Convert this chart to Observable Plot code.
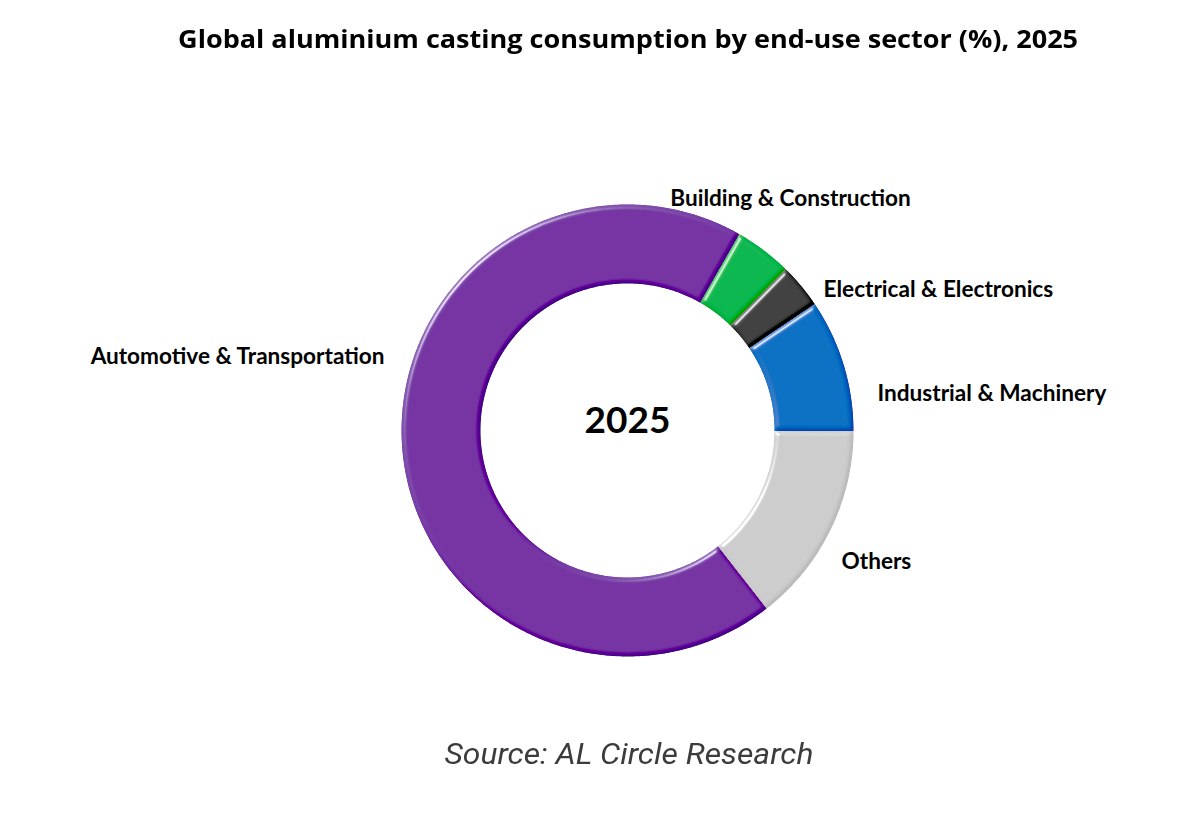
<!DOCTYPE html>
<html>
<head>
<meta charset="utf-8">
<script src="https://cdn.jsdelivr.net/npm/d3@7"></script>
<script src="https://cdn.jsdelivr.net/npm/@observablehq/plot@0.6"></script>
<style>
  html, body { margin: 0; padding: 0; background: #fff; }
  #page { position: relative; width: 1200px; height: 834px; overflow: hidden; }
  .line {
    position: absolute; left: 0; width: 1256px; text-align: center;
    white-space: nowrap; line-height: 1;
  }
  .line span { display: inline-block; transform-origin: 50% 50%; }
  #title { top: 21px; font: 700 25px "Open Sans", Lato, sans-serif; color: #000; }
  #chart { position: absolute; top: 75px; left: 0; }
  #source { top: 736px; left: 1px; font: italic 400 30px Roboto, sans-serif; color: #3c3c3c; }
</style>
</head>
<body>
<div id="page">
  <div id="title" class="line"><span data-w="900">Global aluminium casting consumption by end-use sector (%), 2025</span></div>
  <div id="chart"></div>
  <div id="source" class="line"><span data-w="369">Source: AL Circle Research</span></div>
</div>
<script>
// Share of aluminium casting consumption by end-use sector, 2025 (%)
const sectors = [
  "Automotive & Transportation",
  "Building & Construction",
  "Electrical & Electronics",
  "Industrial & Machinery",
  "Others"
];
const shares = [68.8, 4.1, 3.2, 9.5, 14.4];
const sectorColors = ["#7433a3", "#05b750", "#404040", "#0270c3", "#cccccc"];
const centerLabel = "2025";

// Ring geometry (pixels) and the angle where the first sector begins
const outerR = 226, innerR = 147;
const startDeg = 142;

// Label placement relative to the ring centre
const labelLayout = {
  "Automotive & Transportation": {dx: -243, dy: -74, anchor: "end"},
  "Building & Construction":     {dx: 163,  dy: -232, anchor: "middle"},
  "Electrical & Electronics":    {dx: 196,  dy: -141, anchor: "start"},
  "Industrial & Machinery":      {dx: 250,  dy: -37,  anchor: "start"},
  "Others":                      {dx: 214,  dy: 131,  anchor: "start"}
};

// Turn each share into a closed annular sector outline
const total = d3.sum(shares);
const ringPoints = [];
let acc = 0;
sectors.forEach((sector, i) => {
  const a0 = (startDeg + acc / total * 360) * Math.PI / 180;
  acc += shares[i];
  const a1 = (startDeg + acc / total * 360) * Math.PI / 180;
  const n = Math.max(2, Math.ceil((a1 - a0) / (Math.PI / 360)));
  for (let k = 0; k <= n; k++) {
    const a = a0 + (a1 - a0) * k / n;
    ringPoints.push({sector, x: outerR * Math.sin(a), y: -outerR * Math.cos(a)});
  }
  for (let k = n; k >= 0; k--) {
    const a = a0 + (a1 - a0) * k / n;
    ringPoints.push({sector, x: innerR * Math.sin(a), y: -innerR * Math.cos(a)});
  }
});

const labels = sectors.map(s => ({sector: s, ...labelLayout[s]}));
const labelFont = {fontFamily: "Lato, 'Open Sans', sans-serif", fontWeight: 700, fontSize: 22.6, fill: "#000"};

const cx = 627, cy = 355, W = 1200, H = 630;

const chart = Plot.plot({
  width: W,
  height: H,
  margin: 0,
  x: {domain: [-cx, W - cx], range: [0, W], axis: null},
  y: {domain: [-cy, H - cy], range: [0, H], axis: null},
  color: {domain: sectors, range: sectorColors},
  style: {background: "transparent", overflow: "visible"},
  marks: [
    Plot.line(ringPoints, {
      x: "x", y: "y", z: "sector", fill: "sector",
      stroke: null, curve: "linear-closed"
    }),
    Plot.text([centerLabel], {
      x: 0, y: -9, text: d => d,
      fontFamily: "Lato, 'Open Sans', sans-serif", fontWeight: 700, fontSize: 37,
      fill: "#000", textAnchor: "middle", lineAnchor: "middle"
    }),
    ...["start", "middle", "end"].map(anchor =>
      Plot.text(labels.filter(d => d.anchor === anchor), {
        x: "dx", y: "dy", text: "sector",
        textAnchor: anchor, lineAnchor: "middle", ...labelFont
      })
    )
  ]
});

// Soft bevel on the ring sectors: gentle diffuse shading plus an edge highlight
const svg = d3.select(chart);
const defs = svg.insert("defs", ":first-child");
const f = defs.append("filter").attr("id", "bevel")
  .attr("x", "-5%").attr("y", "-5%").attr("width", "110%").attr("height", "110%");
f.append("feGaussianBlur").attr("in", "SourceAlpha").attr("stdDeviation", 2).attr("result", "blur");
f.append("feDiffuseLighting").attr("in", "blur").attr("surfaceScale", 3)
  .attr("diffuseConstant", 1).attr("lighting-color", "#fff").attr("result", "lit")
  .append("feDistantLight").attr("azimuth", 225).attr("elevation", 35);
f.append("feComposite").attr("in", "lit").attr("in2", "SourceAlpha").attr("operator", "in").attr("result", "litIn");
f.append("feSpecularLighting").attr("in", "blur").attr("surfaceScale", 3)
  .attr("specularConstant", 0.75).attr("specularExponent", 45).attr("lighting-color", "#fff").attr("result", "spec")
  .append("feDistantLight").attr("azimuth", 225).attr("elevation", 35);
f.append("feComposite").attr("in", "spec").attr("in2", "SourceAlpha").attr("operator", "in").attr("result", "specIn");
f.append("feComposite").attr("in", "SourceGraphic").attr("in2", "litIn").attr("operator", "arithmetic")
  .attr("k1", 0).attr("k2", 1).attr("k3", 0.18).attr("k4", -0.103).attr("result", "shaded");
f.append("feComposite").attr("in", "shaded").attr("in2", "specIn").attr("operator", "arithmetic")
  .attr("k1", 0).attr("k2", 1).attr("k3", 1).attr("k4", 0);
svg.selectAll("g[aria-label='line'] path").attr("filter", "url(#bevel)");

document.getElementById("chart").appendChild(chart);

// Fit the title and source lines to their set widths
function fitLines() {
  document.querySelectorAll(".line span").forEach(el => {
    el.style.transform = "none";
    const w = el.getBoundingClientRect().width;
    const target = +el.dataset.w;
    if (w > 0) el.style.transform = `scaleX(${target / w})`;
  });
}
fitLines();
if (document.fonts && document.fonts.ready) document.fonts.ready.then(fitLines);
</script>
</body>
</html>
